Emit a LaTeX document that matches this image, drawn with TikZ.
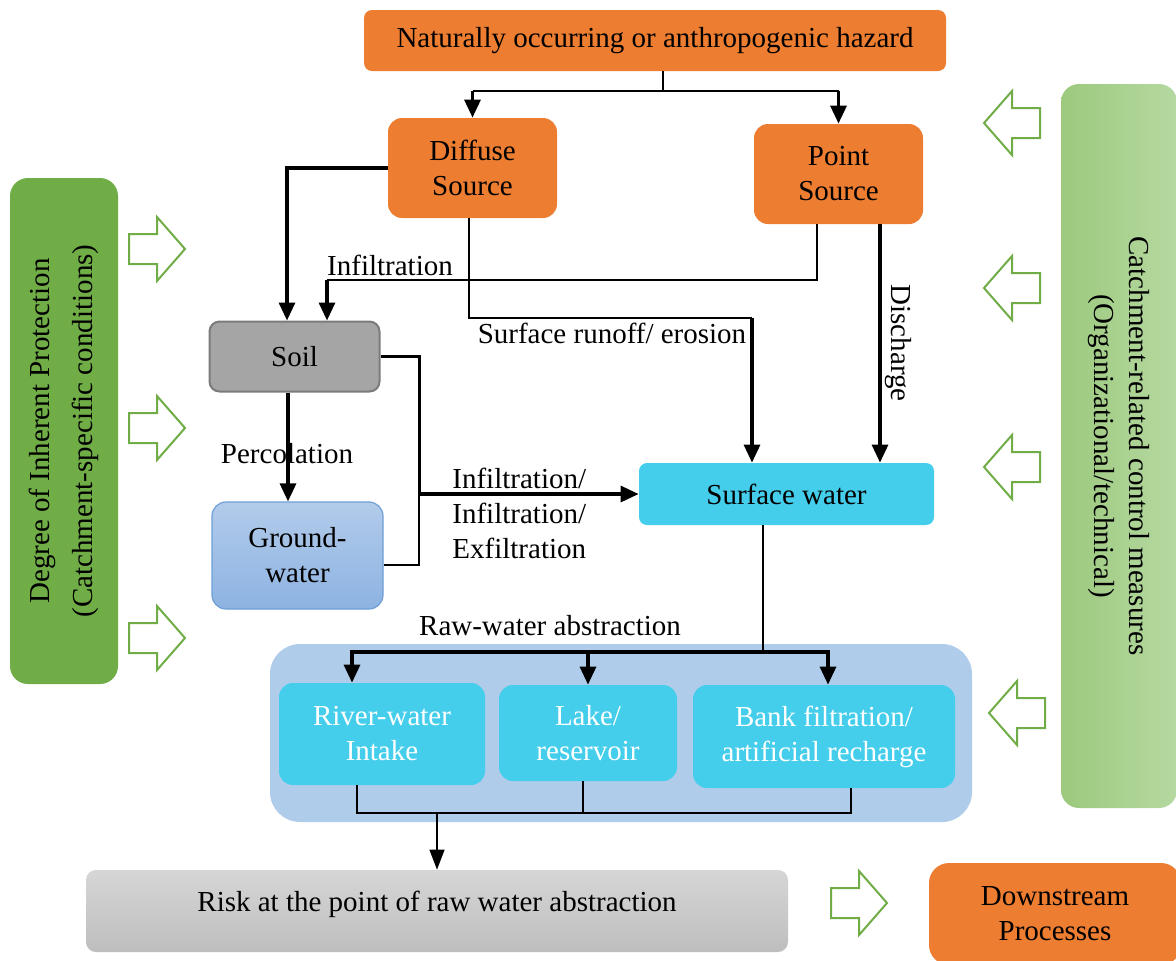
\documentclass[tikz,border=0pt]{standalone}
\usepackage{fontspec}
\setmainfont{Liberation Serif}
\usetikzlibrary{shapes,positioning,arrows.meta,calc}

\definecolor{hazardorange}{HTML}{ED7D31}
\definecolor{watercyan}{HTML}{44CEEB}
\definecolor{zoneblue}{HTML}{AFCCEA}
\definecolor{leafgreen}{HTML}{70AD47}
\definecolor{ctrlgreenL}{HTML}{9CC97D}
\definecolor{ctrlgreenR}{HTML}{B5D9A1}
\definecolor{soilgray}{HTML}{A5A5A5}
\definecolor{soilborder}{HTML}{7B7B7B}
\definecolor{groundtop}{HTML}{B2CBEA}
\definecolor{groundbot}{HTML}{8DB3E2}
\definecolor{groundborder}{HTML}{6E9FD6}
\definecolor{risktop}{HTML}{D6D6D6}
\definecolor{riskbot}{HTML}{BEBEBE}

\tikzset{
  box/.style={rectangle, rounded corners=7pt, align=center, inner sep=2pt},
  src/.style={box, fill=hazardorange},
  water/.style={box, fill=watercyan},
  flow/.style={-{Triangle[width=8pt,length=9pt]}, line width=1.6pt},
  link/.style={line width=0.7pt},
  thinflow/.style={link, -{Triangle[width=7.5pt,length=10pt]}},
  hollow arrow/.pic={
    \draw[leafgreen, line width=1pt, fill=white]
      (-28,-15) -- (0,-15) -- (0,-32) -- (28,0) -- (0,32) -- (0,15) -- (-28,15) -- cycle;
  }
}

\begin{document}
\begin{tikzpicture}[x=0.5pt, y=-0.5pt, font=\fontsize{14.5pt}{17.5pt}\selectfont]
\clip (0,0) rectangle (1176,960);

% side panels
\node[box, rounded corners=9pt, fill=leafgreen, minimum width=54pt, minimum height=253pt] (protect) at (64,431) {};
\node[rotate=90, align=center, font=\fontsize{14.5pt}{21.5pt}\selectfont] (protect_txt) at (protect.center) {Degree of Inherent Protection\\(Catchment-specific conditions)};
\node[box, rounded corners=9pt, left color=ctrlgreenL, right color=ctrlgreenR, minimum width=58pt, minimum height=362pt] (control) at (1119,446) {};
\node[rotate=-90, align=center] (control_txt) at (control.center) {Catchment-related control measures\\(Organizational/technical)};

% sources
\node[src, rounded corners=4pt, minimum width=291pt, minimum height=30.5pt] (hazard) at (655,40.5) {Naturally occurring or anthropogenic hazard};
\node[src, minimum width=84.5pt, minimum height=50pt] (diffuse) at (472.5,168) {Diffuse\\Source};
\node[src, minimum width=84.5pt, minimum height=50pt] (point) at (838.5,174) {Point\\Source};

% compartments
\node[box, rounded corners=5pt, fill=soilgray, draw=soilborder, line width=1pt, minimum width=85pt, minimum height=35pt] (soil) at (294.5,356.5) {Soil};
\node[box, top color=groundtop, bottom color=groundbot, draw=groundborder, line width=0.6pt, minimum width=85.5pt, minimum height=53.5pt] (ground) at (297.5,555.5) {Ground-\\water};
\node[water, rounded corners=4pt, minimum width=147.5pt, minimum height=31pt] (surf) at (786.5,494) {Surface water};

% raw-water abstraction
\node[box, rounded corners=15pt, fill=zoneblue, minimum width=351pt, minimum height=89pt] (abstr_zone) at (621,733) {};
\node[water, text=white, minimum width=103pt, minimum height=51pt] (river) at (382,734) {River-water\\Intake};
\node[water, text=white, minimum width=89pt, minimum height=48pt] (lake) at (588,733) {Lake/\\reservoir};
\node[water, text=white, minimum width=131pt, minimum height=51.5pt] (bank) at (824,736.5) {Bank filtration/\\artificial recharge};

% outcome
\node[box, rounded corners=5pt, top color=risktop, bottom color=riskbot, text height=10pt, text depth=10pt, minimum width=351pt, minimum height=41pt] (risk) at (437,911) {Risk at the point of raw water abstraction};
\node[src, rounded corners=10pt, minimum width=126pt, minimum height=51pt] (downstream) at (1055,914) {Downstream\\Processes};

% labels
\node (lbl_infil) at (390,265) {Infiltration};
\node (lbl_runoff) at (612,333) {Surface runoff/ erosion};
\node[rotate=-90] (lbl_disch) at (898,343) {Discharge};
\node (lbl_perc) at (287,454) {Percolation};
\node[align=left, anchor=west, inner sep=0pt] (lbl_exch) at (452,513) {Infiltration/\\Infiltration/\\Exfiltration};
\node (lbl_raw) at (550,626) {Raw-water abstraction};

% hazard to sources
\coordinate (haz_split) at (663,91);
\draw[link, line width=0.9pt] (haz_split |- hazard.south) -- (haz_split);
\draw[link, line width=1.1pt] (diffuse.north |- haz_split) -- (point.north |- haz_split);
\draw[flow] (diffuse.north |- haz_split) -- (diffuse.north);
\draw[flow] (point.north |- haz_split) -- (point.north);

% sources to soil
\draw[flow] (diffuse.west) -| ($(soil.north)+(-7.5,0)$);
\coordinate (infil_start) at ($(point.south)+(-21.5,0)$);
\coordinate (infil_turn) at (327,280);
\draw[link, line width=1pt] (infil_start) |- (infil_turn);
\draw[flow] (infil_turn) -- (infil_turn |- soil.north);

% sources to surface water
\coordinate (runoff_start) at ($(diffuse.south)+(-3.5,0)$);
\coordinate (runoff_turn) at (752,318);
\draw[link] (runoff_start) |- (runoff_turn);
\draw[flow] (runoff_turn) -- (runoff_turn |- surf.north);
\coordinate (disch_start) at ($(point.south)+(41.5,0)$);
\draw[flow] (disch_start) -- (disch_start |- surf.north);

% soil, groundwater and surface water
\coordinate (perc_start) at ($(soil.south)+(-6.5,0)$);
\draw[flow] (perc_start) -- (perc_start |- ground.north);
\draw[flow] (soil.east) -- ++(39,0) |- (surf.west);
\coordinate (exch_join) at (419,494);
\draw[link] ($(ground.east)+(0,9.5)$) -| (exch_join);

% surface water to abstraction
\coordinate (abstr_split) at (763,652);
\draw[link] (abstr_split |- surf.south) -- (abstr_split);
\draw[flow] (abstr_split) -| ($(river.north)+(-30,0)$);
\draw[flow] (abstr_split) -| (lake.north);
\draw[flow] (abstr_split) -| ($(bank.north)+(4,0)$);

% abstraction to risk
\coordinate (risk_join) at (437,813);
\draw[link] ($(river.south)+(-25,0)$) |- (risk_join) -| ($(bank.south)+(27,0)$);
\draw[link] ($(lake.south)+(-5,0)$) -- ($(lake.south)+(-5,32)$);
\draw[thinflow] (risk_join) -- (risk.north);

% hollow arrows
\foreach \y [count=\i] in {249,428,638}
  \pic (in_arrow\i) at (157,\y) {hollow arrow};
\foreach \x/\y [count=\i] in {1012/123,1012/288,1012/467,1017/713}
  \pic[rotate=180] (ctrl_arrow\i) at (\x,\y) {hollow arrow};
\pic (out_arrow) at (859,903) {hollow arrow};
\end{tikzpicture}
\end{document}
